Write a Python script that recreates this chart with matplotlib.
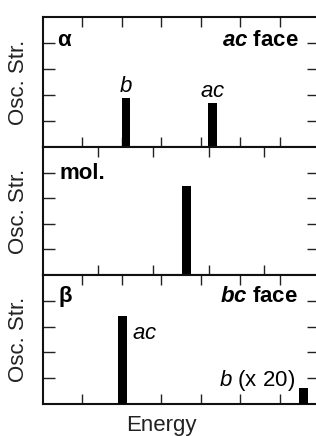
import matplotlib
matplotlib.use("Agg")
import matplotlib.pyplot as plt

plt.rcParams['font.family'] = ['Liberation Sans', 'DejaVu Sans']
plt.rcParams['mathtext.fontset'] = 'custom'
plt.rcParams['mathtext.rm'] = 'Liberation Sans'
plt.rcParams['mathtext.it'] = 'Liberation Sans:italic'
plt.rcParams['mathtext.bf'] = 'Liberation Sans:bold'
plt.rcParams['mathtext.bfit'] = 'Liberation Sans:italic:bold'

# Data (arbitrary energy units per panel)
alpha_pos = [2.1, 4.3]
alpha_val = [1.88, 1.69]
alpha_lab = [r'$\mathit{b}$', r'$\mathit{ac}$']

mol_pos = [2.6]
mol_val = [3.49]

beta_pos = [2.02, 6.6]
beta_val = [3.41, 0.63]

W, H = 316, 436
fig = plt.figure(figsize=(W / 100, H / 100), dpi=100)

left = 43 / W
width = 276 / W
FS = 16

def make_ax(top_px, bot_px, xmax, xt):
    ax = fig.add_axes([left, 1 - bot_px / H, width, (bot_px - top_px) / H])
    ax.set_xlim(0, xmax)
    ax.set_ylim(0, 5)
    ax.set_xticks(xt)
    ax.set_yticks([1, 2, 3, 4])
    ax.tick_params(axis='x', direction='in', length=7, width=1, top=True, bottom=True,
                   labelbottom=False, labeltop=False, color='#222222')
    ax.tick_params(axis='y', direction='in', length=8.5, width=1, left=True, right=True,
                   labelleft=False, labelright=False, color='#222222')
    for s in ax.spines.values():
        s.set_linewidth(1.5)
        s.set_color('#111111')
    ax.set_ylabel('Osc. Str.', fontsize=FS, color='#222222')
    ax.yaxis.set_label_coords(-0.052, 0.5)
    return ax

ax1 = make_ax(17, 147, 7, [1, 2, 3, 4, 5, 6])
ax2 = make_ax(147, 275, 5, [1, 2, 3, 4])
ax3 = make_ax(275, 404, 7, [1, 2, 3, 4, 5, 6])

# Panel alpha
ax1.bar(alpha_pos, alpha_val, width=0.21, color='black', zorder=3)
ax1.text(alpha_pos[0], alpha_val[0] + 0.05, alpha_lab[0], fontsize=FS, ha='center', va='bottom')
ax1.text(alpha_pos[1], alpha_val[1] + 0.05, alpha_lab[1], fontsize=FS, ha='center', va='bottom')
ax1.text(0.052, 0.82, 'α', transform=ax1.transAxes, fontsize=FS, fontweight='bold',
         ha='left', va='center')
ax1.text(0.925, 0.82, r'$\mathbfit{ac}$ face', transform=ax1.transAxes, fontsize=FS,
         fontweight='bold', ha='right', va='center')

# Panel mol
ax2.bar(mol_pos, mol_val, width=0.16, color='black', zorder=3)
ax2.text(0.06, 0.795, 'mol.', transform=ax2.transAxes, fontsize=FS, fontweight='bold',
         ha='left', va='center')

# Panel beta
ax3.bar(beta_pos, beta_val, width=0.22, color='black', zorder=3)
ax3.text(beta_pos[0] + 0.24, 2.75, r'$\mathit{ac}$', fontsize=FS, ha='left', va='center')
ax3.text(beta_pos[1] - 0.2, 0.93, r'$\mathit{b}$ (x 20)', fontsize=FS, ha='right', va='center')
ax3.text(0.055, 0.83, 'β', transform=ax3.transAxes, fontsize=FS, fontweight='bold',
         ha='left', va='center')
ax3.text(0.925, 0.83, r'$\mathbfit{bc}$ face', transform=ax3.transAxes, fontsize=FS,
         fontweight='bold', ha='right', va='center')
ax3.set_xlabel('Energy', fontsize=FS, color='#222222')
ax3.xaxis.set_label_coords(0.43, -0.085)
ax3.xaxis.label.set_va('top')

fig.savefig('out.png', dpi=100)
